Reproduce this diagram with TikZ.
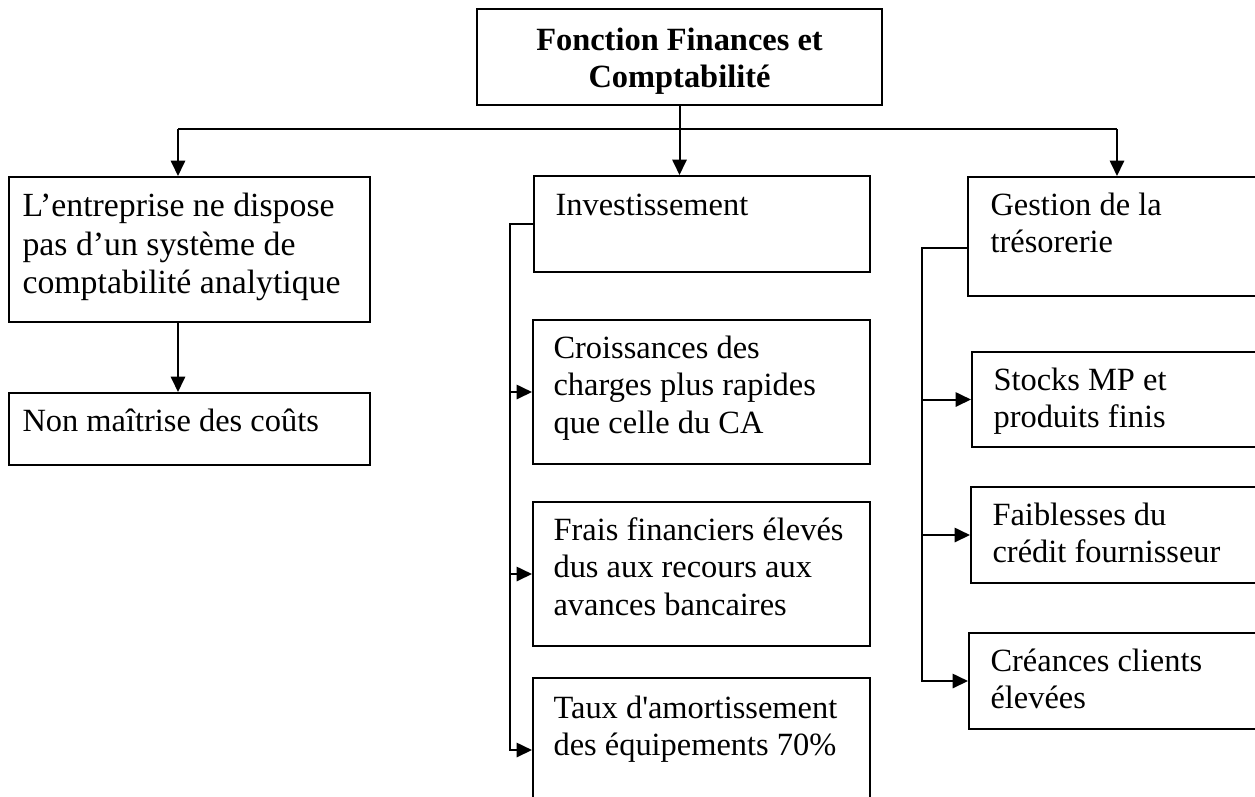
\documentclass[tikz,border=0pt]{standalone}
\usepackage{fontspec}
\setmainfont{Liberation Serif}
\usetikzlibrary{arrows.meta,fit}
\newdimen\px \px=0.37pt
% first-line strut: fixes the distance from a text node's top to its first baseline
\newcommand\ascstrut{\rule{0pt}{25\px}}
\begin{document}
\begin{tikzpicture}[x=0.37pt,y=-0.37pt,
  box/.style={draw, line width=0.74pt, inner sep=0pt, fit={#1}},
  txt/.style={anchor=north west, inner sep=0pt, align=left,
    font=\fontsize{12}{13.8}\selectfont},
  conn/.style={line width=0.74pt},
  arr/.style={conn, -{Triangle[length=5.7pt,width=5.3pt]}}]
\useasboundingbox (0,0) rectangle (1255,796);
\clip (0,0) rectangle (1255,796);

% title box
\node[box={(477,9) (882,105)}] (top) {};
\node[txt, anchor=north, align=center, font=\fontsize{12}{13.8}\selectfont\bfseries]
  (topT) at (679.5,25) {\ascstrut Fonction Finances et\\Comptabilité};

% left branch
\node[box={(9,177) (370,322)}] (left) {};
\node[txt, font=\fontsize{12.5}{14.3}\selectfont] (leftT) at (22,191)
  {\ascstrut L’entreprise ne dispose\\pas d’un système de\\comptabilité analytique};
\node[box={(9,393) (370,465)}] (nonm) {};
\node[txt] (nonmT) at (22,406) {\ascstrut Non maîtrise des coûts};

% middle branch
\node[box={(534,176) (870,272)}] (inv) {};
\node[txt] (invT) at (555,190) {\ascstrut Investissement};
\node[box={(533,320) (870,464)}] (croiss) {};
\node[txt] (croissT) at (553,333) {\ascstrut Croissances des\\charges plus rapides\\que celle du CA};
\node[box={(533,502) (870,646)}] (frais) {};
\node[txt] (fraisT) at (553,515) {\ascstrut Frais financiers élevés\\dus aux recours aux\\avances bancaires};
\node[box={(533,678) (870,822)}] (taux) {};
\node[txt] (tauxT) at (553,693) {\ascstrut Taux d\textquotesingle amortissement\\des équipements 70\%};

% right branch
\node[box={(968,177) (1265,296)}] (gest) {};
\node[txt] (gestT) at (990,190) {\ascstrut Gestion de la\\trésorerie};
\node[box={(972,352) (1265,447)}] (stocks) {};
\node[txt] (stocksT) at (993,365) {\ascstrut Stocks MP et\\produits finis};
\node[box={(971,487) (1265,583)}] (faib) {};
\node[txt] (faibT) at (992,500) {\ascstrut Faiblesses du\\crédit fournisseur};
\node[box={(969,633) (1265,729)}] (cre) {};
\node[txt] (creT) at (990,646) {\ascstrut Créances clients\\élevées};

% top-level distribution
\coordinate (busL) at (178,129);
\coordinate (busR) at (1117,129);
\draw[conn] (busL) -- (busR);
\draw[arr] (top.south) -- (top.south |- inv.north);
\draw[arr] (busL) -- (busL |- left.north);
\draw[arr] (busR) -- (busR |- gest.north);
\draw[arr] (busL |- left.south) -- (busL |- nonm.north);

% investment column
\coordinate (invJ) at (510,224);
\draw[arr] (inv.west) -- (invJ) -- (invJ |- taux.west) -- (taux.west);
\draw[arr] (invJ |- croiss.west) -- (croiss.west);
\draw[arr] (invJ |- frais.west) -- (frais.west);

% treasury column
\coordinate (gesJ) at (922,248);
\draw[arr] (gest.west |- gesJ) -- (gesJ) -- (gesJ |- cre.west) -- (cre.west);
\draw[arr] (gesJ |- stocks.west) -- (stocks.west);
\draw[arr] (gesJ |- faib.west) -- (faib.west);
\end{tikzpicture}
\end{document}
